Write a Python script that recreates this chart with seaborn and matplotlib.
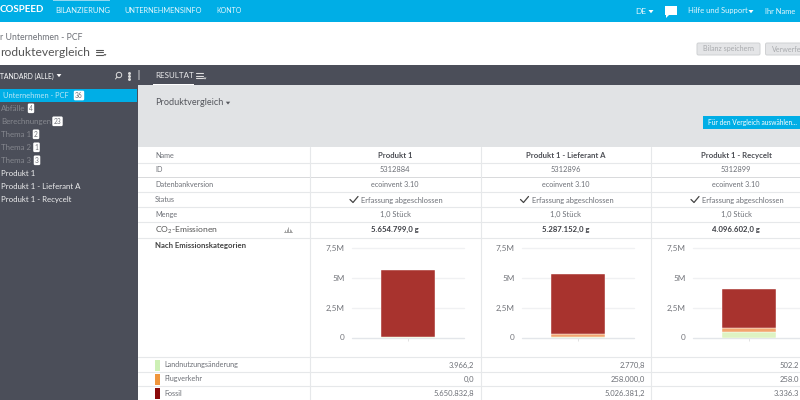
import matplotlib
matplotlib.use("Agg")
import matplotlib.pyplot as plt
import pandas as pd
import seaborn as sns
from matplotlib.patches import Circle, FancyBboxPatch, Polygon, Rectangle

products = ["Produkt 1", "Produkt 1 - Lieferant A", "Produkt 1 - Recycelt"]
ids = ["5312884", "5312896", "5312899"]
totals = ["5.654.799,0 g", "5.287.152,0 g", "4.096.602,0 g"]
landuse = [3966.2, 2770.8, 502200.0]
flights = [0.0, 258000.0, 258000.0]
fossil = [5650832.8, 5026381.2, 3336400.0]
landuse_labels = ["3.966,2", "2.770,8", "502.2"]
flights_labels = ["0,0", "258.000,0", "258.0"]
fossil_labels = ["5.650.832,8", "5.026.381,2", "3.336.3"]
y_ticks = [0, 2500000, 5000000, 7500000]
y_labels = ["0", "2,5M", "5M", "7,5M"]
nav_items = ["BILANZIERUNG", "UNTERNEHMENSINFO", "KONTO"]
side_items = ["Abfälle", "Berechnungen", "Thema 1", "Thema 2", "Thema 3"]
side_counts = ["4", "23", "2", "1", "3"]

BLUE = "#00aee6"
DARK = "#4b4e59"
GREY = "#e1e3e5"
TXT = "#6d7077"
LINE = "#e6e8ea"

sns.set_theme(style="white")
plt.rcParams["font.family"] = ["Lato", "DejaVu Sans"]
plt.rcParams["mathtext.default"] = "regular"

fig = plt.figure(figsize=(8, 4), dpi=100)
bg = fig.add_axes([0, 0, 1, 1])
bg.set_xlim(0, 800)
bg.set_ylim(400, 0)
bg.axis("off")


def rect(x, y, w, h, c, z=1):
    bg.add_patch(Rectangle((x, y), w, h, fc=c, ec="none", zorder=z))


def caret(x, y, s=2.5, c="white"):
    bg.add_patch(Polygon([(x - s, y - s * 0.6), (x + s, y - s * 0.6), (x, y + s * 0.7)], fc=c, ec="none", zorder=5))


def burger(x, y, c="#555"):
    for dy in (-2.5, 0, 2.5):
        bg.plot([x, x + 7], [y + dy, y + dy], color=c, lw=0.8, zorder=5)
    caret(x + 9, y + 3, 1.5, c)


def check(x, y):
    bg.plot([x, x + 3, x + 8], [y, y + 3, y - 3], color="#444", lw=0.9, zorder=5)


def label(x, y, s, size=5.4, c=TXT, ha="left", w="normal"):
    bg.text(x, y, s, fontsize=size, color=c, ha=ha, va="center", fontweight=w, zorder=6)


def badge(x, y, s):
    bg.text(x, y, s, fontsize=4.8, color=TXT, ha="center", va="center", zorder=6,
            bbox=dict(boxstyle="round,pad=0.2", fc="white", ec="none"))


# header bar and title
rect(0, 0, 800, 21.5, BLUE)
rect(53, 0, 57, 1, "#8fd8f0", 2)
label(0, 10, "COSPEED", 7, "white", w="bold")
for x, s, size in zip([55, 124, 216], nav_items, [5.5, 5.3, 5]):
    label(x, 10.5, s, size, "#e4f6fc")
label(635, 11, "DE", 6, "#e4f6fc")
caret(651, 11.5)
bg.add_patch(Polygon([(665, 6), (677, 6), (677, 15), (669, 15), (666, 18), (666, 15), (665, 15)], fc="white", ec="none"))
label(688, 11, "Hilfe und Support", 5.5, "#e4f6fc")
caret(751, 11.5)
label(765, 11, "Ihr Name", 5.4, "#e4f6fc")

label(0, 38, "r Unternehmen - PCF", 6.3, TXT)
label(0, 52, "roduktevergleich", 8.7, "#555")
burger(96, 52)
for x, w, s in [(697, 63, "Bilanz speichern"), (765.5, 36, "Verwerfe")]:
    bg.add_patch(FancyBboxPatch((x, 43), w, 12, boxstyle="round,pad=0,rounding_size=1.5",
                                fc="#e4e5e7", ec="#cfd1d3", lw=0.7))
    label(x + 6, 49, s, 5.1, "#a9abae")

# dark band, sidebar, grey panel
rect(0, 65, 800, 19.5, DARK)
rect(0, 84.5, 138, 315.5, DARK)
rect(138, 84.5, 662, 62.5, GREY)
rect(138, 147, 662, 253, "white", 0.5)
rect(138, 70, 2, 10, "#8a8c93", 2)
label(0, 76, "TANDARD (ALLE)", 4.9, "white")
caret(59, 75.5, 2.4)
bg.add_patch(Circle((119, 75), 2.7, fc="none", ec="#ddd", lw=0.7, zorder=5))
bg.plot([115.5, 117], [79, 77], color="#ddd", lw=0.7, zorder=5)
for dy in (-3, 0, 3):
    bg.plot([129], [75.5 + dy], "o", ms=1.1, color="#ddd", zorder=5)
label(155, 76, "RESULTAT", 5.8, "#e8e8ea")
rect(153, 83.5, 41, 1.2, "white", 3)
burger(196, 75.5, "#ddd")

rect(0, 88.5, 137, 13.5, BLUE, 2)
label(3, 95.5, "Unternehmen - PCF", 5.4, "#b5e6f6")
badge(79, 95.5, "36")
for i, (name, n) in enumerate(zip(side_items, side_counts)):
    y = 108.3 + i * 13
    label(1, y, name, 5.7, "#85878e")
    badge([31, 57.5, 36, 36.5, 37][i], y, n)
for i, name in enumerate(products):
    label(1, 173.3 + i * 13, name, 5.7, "#eeeeef")

label(155, 102.5, "Produktvergleich", 6.6, "#55575d")
caret(228, 103, 2.2, "#55575d")
bg.add_patch(Rectangle((702.5, 115.5), 100, 13, fc=BLUE, ec="none", zorder=3))
label(708, 122, "Für den Vergleich auswählen...", 4.8, "white")

# table
for y in [163, 191.5, 206.5, 221.5, 237.5, 357, 371.5, 385.5]:
    bg.plot([138, 800], [y, y], color=LINE, lw=0.8, zorder=1)
rect(138, 176.5, 662, 1.8, "#d9dadc", 1)
for x in [309.5, 480.5, 650.5]:
    bg.plot([x, x], [147, 400], color=LINE, lw=0.8, zorder=1)

for y, s in zip([155, 170, 184.5, 199, 214.5], ["Name", "ID", "Datenbankversion", "Status", "Menge"]):
    label(155, y, s, 5.2)
label(155, 230, "CO$_2$-Emissionen", 6.1, "#555")
bar_x = [284.5, 286.5, 288, 289.5, 291]
bar_h = [2, 3, 5, 3, 2]
bg.plot([283.5, 292], [231.5, 231.5], color="#999", lw=0.6)
bg.vlines(bar_x, [231.5 - h for h in bar_h], 231.5, color="#999", lw=0.6)
label(155, 245.5, "Nach Emissionskategorien", 5.6, "#444", w="bold")

centers = [395, 565.5, 736]
for i, c in enumerate(centers):
    label(c, 155.5, products[i], 5.6, "#4d4f55", "center", "bold")
    label(c, 170, ids[i], 5.4, TXT, "center")
    label(c, 184.5, "ecoinvent 3.10", 5.2, TXT, "center")
    check(c - 45, 199.5)
    label(c - 34, 200, "Erfassung abgeschlossen", 5.4, TXT)
    label(c, 214.5, "1,0 Stück", 5.4, TXT, "center")
    label(c, 229.5, totals[i], 5.6, "#3d3f45", "center", "bold")
    right = [474.5, 645, 799][i]
    label(right, 365, landuse_labels[i], 5.5, TXT, "right")
    label(right, 379, flights_labels[i], 5.5, TXT, "right")
    label(right, 393.5, fossil_labels[i], 5.5, TXT, "right")

for y, c, s in zip([365, 379, 393.5], ["#cdf0b5", "#f0963c", "#8b0a0a"], ["Landnutzungsänderung", "Flugverkehr", "Fossil"]):
    rect(155, y - 5.5, 5, 11, c, 3)
    label(164, y, s, 5.2)

# stacked bars, one small chart per product
lefts = [352, 522, 693]
for i, left in enumerate(lefts):
    ax = fig.add_axes([left / 800, (400 - 337.5) / 400, 112 / 800, 89.5 / 400])
    ax.patch.set_alpha(0)
    df = pd.DataFrame({"p": [products[i]], "a": [landuse[i]], "b": [flights[i]], "c": [fossil[i]]})
    sns.barplot(df, x="p", y="a", color="#def3c3", saturation=1, width=0.48, ax=ax, zorder=3)
    sns.barplot(df, x="p", y="b", color="#f2a56e", saturation=1, width=0.48, bottom=landuse[i], ax=ax, zorder=3)
    sns.barplot(df, x="p", y="c", color="#a8332e", saturation=1, width=0.48, bottom=landuse[i] + flights[i], ax=ax, zorder=3)
    for p in ax.patches:
        p.set_edgecolor("white")
        p.set_linewidth(0.3)
    ax.set_xlim(-0.5, 0.5)
    ax.set_ylim(0, 7500000)
    ax.set_yticks(y_ticks, y_labels)
    ax.set_xticks([0], [""])
    ax.set_xlabel("")
    ax.set_ylabel("")
    ax.tick_params(axis="y", length=0, pad=5.5, labelsize=5.9, labelcolor="#74767c")
    ax.tick_params(axis="x", length=2, width=0.6, color="#ddd", bottom=True)
    for v in y_ticks:
        ax.axhline(v, color="#e3e6ea" if v == 0 else "#f0f1f3", lw=1, zorder=1, clip_on=False)
    sns.despine(ax=ax, left=True, bottom=True)

fig.savefig("out.png", dpi=100)
